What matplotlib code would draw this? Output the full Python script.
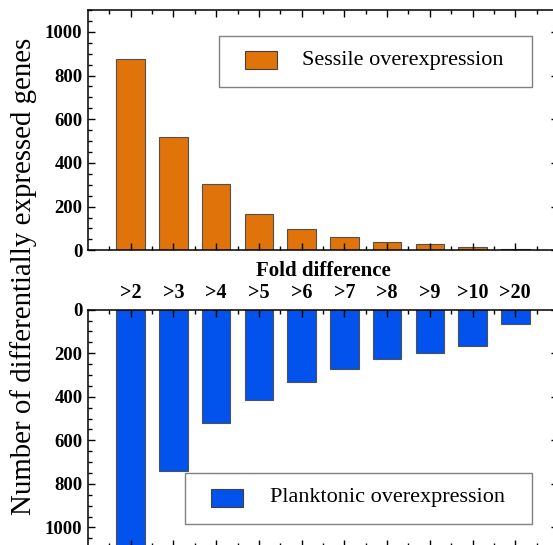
import numpy as np
import matplotlib.pyplot as plt
from matplotlib.patches import Rectangle
from matplotlib.ticker import FixedLocator, MultipleLocator

plt.rcParams['font.family'] = 'Liberation Serif'

folds = ['>2', '>3', '>4', '>5', '>6', '>7', '>8', '>9', '>10', '>20']
sessile = [876, 521, 305, 167, 96, 62, 38, 30, 17, 6]
planktonic = [1150, 743, 521, 416, 330, 271, 228, 197, 168, 67]
yticks = [0, 200, 400, 600, 800, 1000]

orange = '#e0740a'
blue = '#0252ee'
x = np.arange(len(folds))

fig = plt.figure(figsize=(5.53, 5.45), dpi=100)
ax1 = fig.add_axes([0.1591, 0.5407, 0.85, 0.4409])
ax2 = fig.add_axes([0.1591, -0.0037, 0.85, 0.4354])


def style(ax):
    ax.set_xlim(-1, 10)
    ax.set_xticks(x)
    ax.xaxis.set_minor_locator(FixedLocator(np.arange(-0.5, 10, 1)))
    ax.set_yticks(yticks, [str(v) for v in yticks], fontweight='bold', fontsize=13.5)
    ax.yaxis.set_minor_locator(MultipleLocator(50))
    ax.tick_params(which='both', direction='in', top=True, right=True, width=1)
    ax.tick_params(which='major', length=5, pad=4)
    ax.tick_params(which='minor', length=3)
    for s in ax.spines.values():
        s.set_linewidth(1.1)


def key(ax, frame, patch, tx, color, label):
    ax.add_patch(Rectangle((frame[0], frame[1]), frame[2] - frame[0], frame[3] - frame[1],
                           transform=ax.transAxes, fill=False, ec='#808080', lw=1, zorder=5))
    ax.add_patch(Rectangle((patch[0], patch[1]), patch[2] - patch[0], patch[3] - patch[1],
                           transform=ax.transAxes, fc=color, ec='#404040', lw=0.8, zorder=5))
    ax.text(tx, (patch[1] + patch[3]) / 2, label, transform=ax.transAxes,
            va='center', ha='left', fontsize=16, zorder=5)


# top: sessile
ax1.bar(x, sessile, width=0.67, color=orange, edgecolor='#505050', linewidth=0.8)
style(ax1)
ax1.set_ylim(0, 1100)
ax1.tick_params(labelbottom=False)
key(ax1, (0.2787, 0.6796, 0.9447, 0.893), (0.334, 0.7545, 0.4015, 0.8294),
    0.455, orange, 'Sessile overexpression')

# bottom: planktonic, drawn downwards
ax2.bar(x, planktonic, width=0.67, color=blue, edgecolor='#505050', linewidth=0.8)
style(ax2)
ax2.set_ylim(1090, 0)
ax2.set_xticklabels(folds, fontweight='bold', fontsize=14.5)
ax2.tick_params(axis='x', labeltop=True, labelbottom=False, pad=5)
ax2.xaxis.set_label_position('top')
ax2.set_xlabel('Fold difference', fontweight='bold', fontsize=15, labelpad=5)
key(ax2, (0.207, 0.0957, 0.9447, 0.3106), (0.2617, 0.1698, 0.3298, 0.2444),
    0.387, blue, 'Planktonic overexpression')

fig.text(0.043, 0.493, 'Number of differentially expressed genes', rotation=90,
         va='center', ha='center', fontsize=20.8)

fig.savefig('out.png', dpi=100)
